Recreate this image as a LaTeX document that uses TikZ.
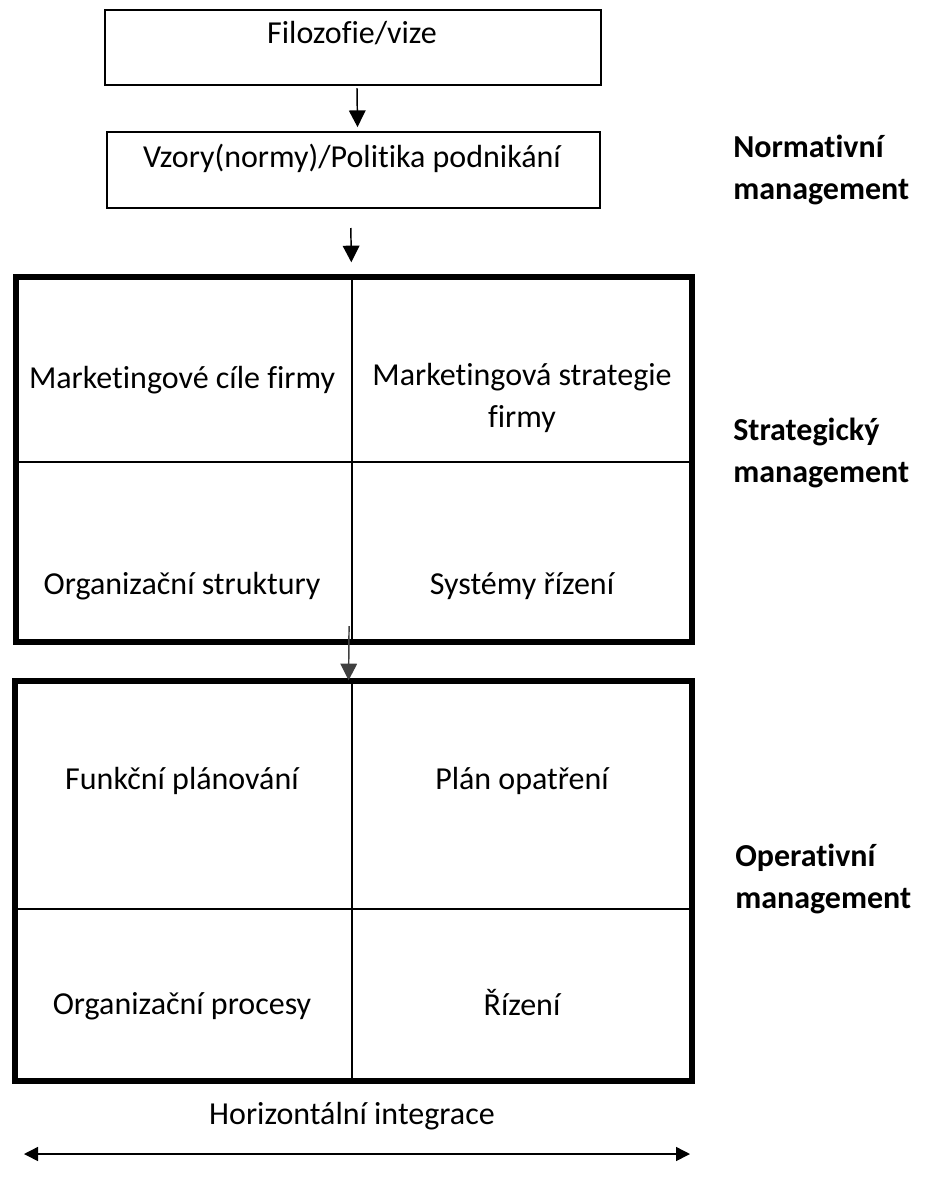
\documentclass[tikz,border=0pt]{standalone}
\usepackage{fontspec}
\setmainfont{Carlito}[Ligatures={NoCommon}]
\usetikzlibrary{arrows.meta,fit}
\begin{document}
\begin{tikzpicture}[x=0.75pt,y=-0.75pt,
  txt/.style={font=\fontsize{24}{31.5}\selectfont, inner sep=0pt, align=center},
  side/.style={font=\fontsize{24}{31.5}\selectfont\bfseries, inner sep=0pt, align=left, anchor=west},
  thinbox/.style={draw, line width=1.7pt, inner sep=0pt, outer sep=0pt},
  thickbox/.style={draw, line width=4.1pt, inner sep=0pt, outer sep=0pt},
  divider/.style={line width=2pt},
  arr/.style={line width=1.1pt, -{Triangle[width=12.5pt,length=12.5pt]}},
  harr/.style={line width=1.1pt, {Triangle[width=10.5pt,length=10.5pt]}-{Triangle[width=10.5pt,length=10.5pt]}}
]
\useasboundingbox (0,0) rectangle (929,1178);

% top boxes
\node[thinbox, fit={(105,10) (601,85)}] (fil) {};
\node[txt] (filt) at (352,33) {Filozofie/vize};
\node[thinbox, fit={(107,132) (600,208)}] (vz) {};
\node[txt] (vzt) at (352,158) {Vzory(normy)/Politika podnikání};
\node[side] (norm) at (733,170) {Normativní\\management};

% strategic grid
\node[thickbox, fit={(16,277) (692,642)}] (strat) {};
\coordinate (sv1) at (352,277);
\coordinate (sv2) at (352,642);
\coordinate (sh1) at (16,462);
\coordinate (sh2) at (692,462);
\draw[divider] (sv1) -- (sv2);
\draw[divider] (sh1) -- (sh2);
\node[txt] (mc) at (182,380) {Marketingové cíle firmy};
\node[txt] (ms) at (522,398) {Marketingová strategie\\firmy};
\node[txt] (os) at (182,586) {Organizační struktury};
\node[txt] (sr) at (522,586) {Systémy řízení};
\node[side] (strl) at (733,453) {Strategický\\management};

% operative grid
\node[thickbox, fit={(15,681) (692,1081)}] (op) {};
\coordinate (ov1) at (352,681);
\coordinate (ov2) at (352,1081);
\coordinate (oh1) at (15,909);
\coordinate (oh2) at (692,909);
\draw[divider] (ov1) -- (ov2);
\draw[divider] (oh1) -- (oh2);
\node[txt] (fp) at (182,781) {Funkční plánování};
\node[txt] (po) at (522,781) {Plán opatření};
\node[txt] (opr) at (182,1006) {Organizační procesy};
\node[txt] (ri) at (522,1003) {Řízení};
\node[side] (opl) at (735,879) {Operativní\\management};

% vertical arrows
\draw[arr] ([xshift=3pt,yshift=-2.3pt]fil.south) -- ([xshift=3pt,yshift=3.7pt]vz.north);
\draw[arr] ([xshift=-2pt,yshift=-15pt]vz.south) -- ([xshift=-2pt,yshift=11pt]strat.north);
\draw[arr, black!75] ([xshift=-3.7pt,yshift=12pt]strat.south) -- ([xshift=-3.7pt,yshift=0.5pt]op.north);

% horizontal integration
\coordinate (hl) at (24,1154);
\coordinate (hr) at (690,1154);
\draw[harr] (hl) -- (hr);
\node[txt] (hi) at (352,1116) {Horizontální integrace};
\end{tikzpicture}
\end{document}
